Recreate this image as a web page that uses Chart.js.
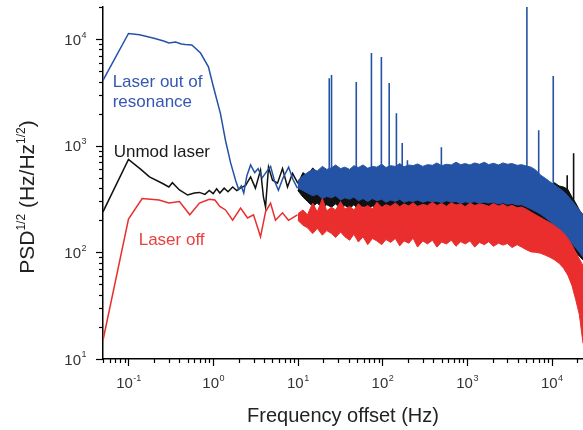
<!DOCTYPE html>
<html>
<head>
<meta charset="utf-8">
<script src="https://cdn.jsdelivr.net/npm/chart.js@4.4.1/dist/chart.umd.min.js"></script>
<style>
  html, body { margin: 0; padding: 0; background: #fff; overflow: hidden; }
  #wrap { width: 583px; height: 430px; }
</style>
</head>
<body>
<div id="wrap"><canvas id="grafico" width="583" height="430"></canvas></div>
<script>
// valores: frequência (Hz) e PSD^1/2 (Hz/Hz^1/2)

// parte de baixa frequência (linhas)
const azulFreq = [0.05, 0.1, 0.135, 0.2, 0.26, 0.3, 0.36, 0.42, 0.47, 0.56, 0.71, 0.88, 1.0, 1.22, 1.4, 1.61, 1.84, 2.0, 2.15, 2.3, 2.5, 2.77, 3.1, 3.4, 3.8, 4.2, 4.77, 5.3, 5.9, 6.7, 7.8, 8.8, 9.9];
const azulPsd  = [4100, 11300, 11000, 10200, 9600, 9200, 9400, 9000, 8900, 8800, 7400, 5500, 3650, 2000, 1120, 690, 475, 390, 420, 360, 520, 660, 560, 610, 500, 560, 640, 470, 383, 500, 630, 480, 400];

const pretoFreq = [0.05, 0.1, 0.14, 0.177, 0.25, 0.3, 0.33, 0.4, 0.5, 0.6, 0.69, 0.8, 0.9, 1.0, 1.1, 1.2, 1.35, 1.5, 1.7, 1.9, 2.1, 2.42, 2.77, 3.16, 3.63, 3.93, 4.16, 4.51, 5.03, 5.76, 6.6, 7.56, 8.66, 10];
const pretoPsd  = [240, 745, 600, 510, 445, 410, 450, 385, 345, 360, 365, 350, 380, 355, 395, 360, 400, 370, 410, 380, 400, 425, 510, 400, 590, 330, 267, 630, 475, 445, 610, 410, 550, 445];

const vermFreq = [0.05, 0.1, 0.145, 0.23, 0.3, 0.4, 0.53, 0.69, 0.9, 1.05, 1.2, 1.4, 1.7, 2.11, 2.55, 3.0, 3.63, 4.16, 4.77, 5.45, 6.6, 7.76, 9.9];
const vermPsd  = [15, 205, 320, 310, 290, 300, 225, 290, 315, 310, 270, 250, 200, 260, 210, 225, 140, 240, 290, 200, 235, 200, 225];

// faixa ruidosa de alta frequência: borda superior e inferior
const faixaFreq = [10, 11.5, 13, 15, 17, 19.5, 22, 25, 28, 32,
  36, 41, 46, 52, 59, 67, 76, 86, 98, 110,
  125, 142, 160, 180, 205, 230, 260, 300, 340, 390,
  440, 500, 570, 650, 740, 840, 950, 1080, 1230, 1400,
  1600, 1800, 2050, 2350, 2650, 3000, 3400, 3900, 4400, 5000,
  5700, 6500, 7400, 8400, 9500, 10800, 12200, 13800, 15500, 17300,
  19200, 21200, 23400];

const azulMax = [470, 520, 560, 600, 580, 640, 600, 620, 660, 610,
  630, 600, 650, 625, 660, 615, 640, 630, 670, 625,
  650, 640, 680, 635, 660, 650, 675, 640, 665, 655,
  690, 650, 670, 660, 700, 665, 680, 660, 690, 670,
  700, 665, 685, 660, 690, 670, 680, 655, 665, 645,
  630, 590, 530, 495, 460, 430, 400, 372, 338, 305,
  275, 248, 225];
const azulMin = [400, 380, 360, 340, 350, 320, 335, 325, 340, 310,
  325, 315, 330, 305, 320, 300, 320, 305, 315, 295,
  310, 300, 315, 295, 305, 300, 310, 295, 305, 298,
  302, 292, 305, 296, 300, 288, 298, 292, 300, 288,
  296, 290, 296, 284, 292, 282, 288, 278, 280, 268,
  255, 242, 228, 212, 196, 180, 165, 150, 135, 122,
  110, 100, 90];

const pretoMax = [440, 560, 520, 620, 560, 600, 560, 580, 620, 580,
  600, 570, 610, 580, 620, 575, 600, 590, 630, 585,
  610, 600, 640, 600, 620, 610, 640, 600, 625, 615,
  650, 610, 630, 620, 660, 625, 640, 620, 650, 630,
  660, 625, 645, 620, 650, 630, 640, 615, 625, 605,
  590, 550, 490, 460, 430, 450, 420, 410, 390, 330,
  290, 250, 225];
const pretoMin = [380, 330, 300, 270, 290, 260, 280, 265, 285, 255,
  275, 258, 280, 252, 270, 248, 272, 252, 268, 248,
  265, 252, 268, 248, 260, 252, 265, 248, 260, 252,
  256, 246, 260, 250, 255, 242, 250, 246, 255, 242,
  250, 246, 250, 238, 246, 236, 240, 232, 236, 226,
  215, 205, 195, 180, 170, 160, 150, 140, 125, 112,
  100, 92, 85];

const vermMax = [230, 250, 225, 290, 240, 320, 245, 265, 250, 300,
  255, 270, 250, 285, 260, 275, 255, 295, 265, 280,
  270, 290, 268, 285, 272, 292, 270, 282, 275, 295,
  275, 288, 270, 292, 278, 285, 268, 290, 275, 284,
  280, 270, 288, 272, 282, 268, 276, 262, 266, 254,
  238, 224, 212, 200, 190, 178, 165, 152, 135, 118,
  100, 87, 75];
const vermMin = [200, 180, 170, 150, 168, 145, 160, 150, 138, 155,
  140, 130, 148, 125, 140, 118, 135, 128, 118, 132,
  124, 135, 115, 128, 122, 136, 112, 128, 120, 130,
  112, 125, 120, 130, 114, 126, 120, 128, 112, 124,
  118, 126, 114, 122, 117, 121, 111, 118, 112, 106,
  101, 100, 98, 94, 90, 85, 79, 71, 61, 49,
  36, 26, 14];

// picos estreitos
const picosAzulFreq = [23.5, 25, 49, 74, 97, 120, 146, 171, 197, 496, 5080, 7000, 10400];
const picosAzulPsd  = [4300, 4600, 3950, 7400, 6800, 3870, 2020, 1060, 730, 970, 30000, 1400, 4500];
const picosPretoFreq = [15200, 18100];
const picosPretoPsd  = [530, 850];

// eixos
const xDecadas = [0.1, 1, 10, 100, 1000, 10000];
const yDecadas = [10, 100, 1000, 10000];

const corAzul = '#2453a6';
const corVermelho = '#ea2e2e';
const corPreto = '#111111';
const fonte = '"Liberation Sans", Arial, sans-serif';

function pontos(freqs, vals) {
  return freqs.map((f, i) => ({ x: f, y: vals[i] }));
}

function picos(freqs, vals, base) {
  const pts = [];
  freqs.forEach((f, i) => {
    pts.push({ x: f * 0.997, y: base }, { x: f, y: vals[i] }, { x: f * 1.003, y: base }, { x: f * 1.003, y: null });
  });
  return pts;
}

function linha(dados, cor, ordem, largura) {
  return { data: dados, borderColor: cor, backgroundColor: cor, borderWidth: largura, order: ordem, fill: false };
}

function potencia(ctx, x, y, exp, alinhar, tam) {
  const tamExp = Math.round(tam * 0.62);
  ctx.font = `${tam}px ${fonte}`;
  const wBase = ctx.measureText('10').width;
  ctx.font = `${tamExp}px ${fonte}`;
  const wExp = ctx.measureText(exp).width;
  const x0 = alinhar === 'center' ? x - (wBase + wExp) / 2 : x - wBase - wExp;
  ctx.textAlign = 'left';
  ctx.textBaseline = 'alphabetic';
  ctx.font = `${tam}px ${fonte}`;
  ctx.fillText('10', x0, y);
  ctx.font = `${tamExp}px ${fonte}`;
  ctx.fillText(exp, x0 + wBase + 0.5, y - tam * 0.47);
}

function textoComSobrescrito(ctx, partes, x, y) {
  let largura = 0;
  partes.forEach(p => { ctx.font = `${p[1]}px ${fonte}`; largura += ctx.measureText(p[0]).width; });
  let cx = x - largura / 2;
  partes.forEach(p => {
    ctx.font = `${p[1]}px ${fonte}`;
    ctx.fillText(p[0], cx, y - p[2]);
    cx += ctx.measureText(p[0]).width;
  });
}

const eixosPlugin = {
  id: 'eixos',
  afterDraw(chart) {
    const { ctx, chartArea } = chart;
    const sx = chart.scales.x;
    const sy = chart.scales.y;
    ctx.save();
    ctx.strokeStyle = '#000';
    ctx.lineWidth = 1.2;

    // marcas do eixo x
    for (let e = -2; e <= 4; e++) {
      for (let m = 1; m <= 9; m++) {
        const v = m * Math.pow(10, e);
        if (v < sx.min || v > sx.max) continue;
        const px = Math.round(sx.getPixelForValue(v)) + 0.5;
        const len = m === 1 ? 7 : 4;
        ctx.beginPath();
        ctx.moveTo(px, chartArea.bottom);
        ctx.lineTo(px, chartArea.bottom + len);
        ctx.stroke();
      }
    }
    // marcas do eixo y
    for (let e = 1; e <= 4; e++) {
      for (let m = 1; m <= 9; m++) {
        const v = m * Math.pow(10, e);
        if (v < sy.min || v > sy.max) continue;
        const py = Math.round(sy.getPixelForValue(v)) + 0.5;
        const len = m === 1 ? 7 : 4;
        ctx.beginPath();
        ctx.moveTo(chartArea.left, py);
        ctx.lineTo(chartArea.left - len, py);
        ctx.stroke();
      }
    }

    ctx.fillStyle = '#333';
    xDecadas.forEach(v => {
      potencia(ctx, sx.getPixelForValue(v), chartArea.bottom + 29, String(Math.round(Math.log10(v))), 'center', 15);
    });
    yDecadas.forEach(v => {
      potencia(ctx, chartArea.left - 17, sy.getPixelForValue(v) + 5.5, String(Math.round(Math.log10(v))), 'right', 15);
    });

    // títulos dos eixos
    ctx.fillStyle = '#222';
    ctx.textAlign = 'center';
    ctx.textBaseline = 'alphabetic';
    ctx.font = `20px ${fonte}`;
    ctx.fillText('Frequency offset (Hz)', (chartArea.left + chartArea.right) / 2, 422);

    ctx.save();
    ctx.translate(34, 197);
    ctx.rotate(-Math.PI / 2);
    ctx.textAlign = 'left';
    textoComSobrescrito(ctx, [
      ['PSD', 21, 0], ['1/2', 12, 9], [' (Hz/Hz', 21, 0], ['1/2', 12, 9], [')', 21, 0]
    ], 0, 0);
    ctx.restore();

    // rótulos das curvas
    const rotulos = [
      { t: 'Laser out of', f: 0.065, v: 3540, c: '#3557b3' },
      { t: 'resonance', f: 0.065, v: 2290, c: '#3557b3' },
      { t: 'Unmod laser', f: 0.0668, v: 787, c: '#1a1a1a' },
      { t: 'Laser off', f: 0.132, v: 117, c: '#e8403f' }
    ];
    ctx.font = `17px ${fonte}`;
    ctx.textAlign = 'left';
    rotulos.forEach(r => {
      ctx.fillStyle = r.c;
      ctx.fillText(r.t, sx.getPixelForValue(r.f), sy.getPixelForValue(r.v));
    });
    ctx.restore();
  }
};

const datasets = [
  linha(pontos(vermFreq, vermPsd), corVermelho, 1, 1.5),
  Object.assign(linha(pontos(faixaFreq, vermMax), corVermelho, 1, 1), { fill: '+1' }),
  linha(pontos(faixaFreq, vermMin), corVermelho, 1, 1),

  linha(pontos(azulFreq, azulPsd), corAzul, 2, 1.5),
  Object.assign(linha(pontos(faixaFreq, azulMax), corAzul, 2, 1), { fill: '+1' }),
  linha(pontos(faixaFreq, azulMin), corAzul, 2, 1),
  linha(picos(picosAzulFreq, picosAzulPsd, 450), corAzul, 2, 1.6),

  linha(pontos(pretoFreq, pretoPsd), corPreto, 3, 1.5),
  Object.assign(linha(pontos(faixaFreq, pretoMax), corPreto, 3, 1), { fill: '+1' }),
  linha(pontos(faixaFreq, pretoMin), corPreto, 3, 1),
  linha(picos(picosPretoFreq, picosPretoPsd, 300), corPreto, 3, 1.6)
];

new Chart(document.getElementById('grafico'), {
  type: 'line',
  data: { datasets },
  options: {
    responsive: false,
    devicePixelRatio: 1,
    animation: false,
    spanGaps: false,
    elements: { point: { radius: 0, hoverRadius: 0 }, line: { tension: 0 } },
    layout: { padding: { top: 7, right: 0, left: 0, bottom: 0 } },
    plugins: { legend: { display: false }, tooltip: { enabled: false } },
    scales: {
      x: {
        type: 'logarithmic',
        min: 0.05,
        max: 23400,
        grid: { display: false },
        border: { display: true, color: '#000', width: 1.5 },
        ticks: { display: false },
        afterBuildTicks: s => { s.ticks = xDecadas.map(v => ({ value: v })); },
        afterFit: s => { s.height = 71; }
      },
      y: {
        type: 'logarithmic',
        min: 10,
        max: 20000,
        grid: { display: false },
        border: { display: true, color: '#000', width: 1.5 },
        ticks: { display: false },
        afterBuildTicks: s => { s.ticks = yDecadas.map(v => ({ value: v })); },
        afterFit: s => { s.width = 103; }
      }
    }
  },
  plugins: [eixosPlugin]
});
</script>
</body>
</html>
